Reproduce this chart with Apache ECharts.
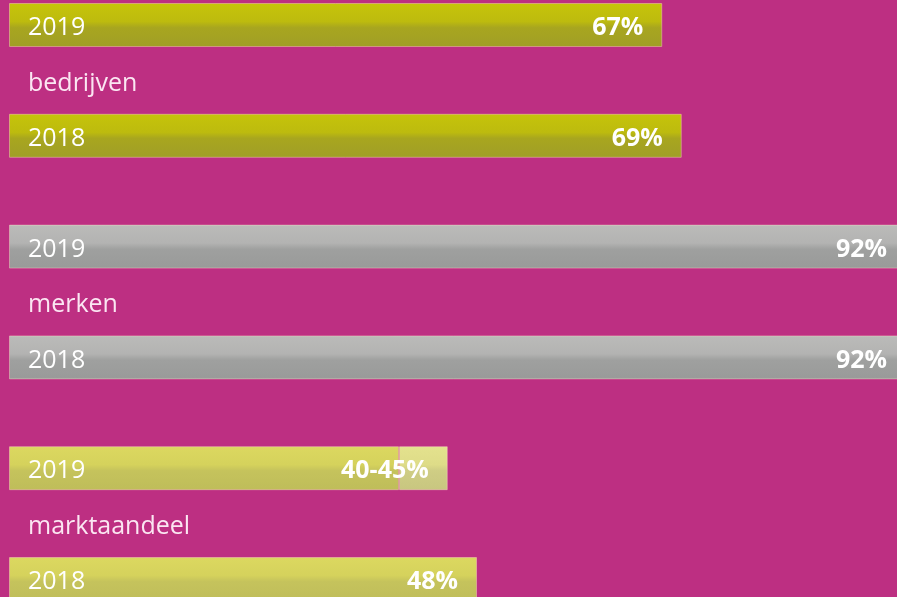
<!DOCTYPE html>
<html>
<head>
<meta charset="utf-8">
<script src="https://cdn.jsdelivr.net/npm/echarts@6/dist/echarts.min.js"></script>
<style>
html,body{margin:0;padding:0;background:#bd2f82;}
#chart{width:897px;height:597px;}
</style>
</head>
<body>
<div id="chart"></div>
<script>
// ---- data ----
const groups = ['bedrijven', 'merken', 'marktaandeel'];
const years = ['2019', '2018'];
const values2019 = [67, 92, 40];
const values2018 = [69, 92, 48];
const rangeTop2019 = [null, null, 45];   // upper end of a range (40-45%)

// ---- styling ----
const palettes = [
  { top: '#c6c40a', mid1: '#bdbb0e', mid2: '#a8a61f', bot: '#a09e27' },
  { top: '#bbbbb9', mid1: '#b3b3b2', mid2: '#9fa09f', bot: '#999a99' },
  { top: '#dcd860', mid1: '#d5d25c', mid2: '#c5c35c', bot: '#bfbd5a' }
];
const rangePalette = { top: '#e4e28e', mid1: '#dedc88', mid2: '#cfcd84', bot: '#c8c680' };
function grad(p) {
  return new echarts.graphic.LinearGradient(0, 0, 0, 1, [
    { offset: 0, color: p.top },
    { offset: 0.42, color: p.mid1 },
    { offset: 0.56, color: p.mid2 },
    { offset: 1, color: p.bot }
  ]);
}

// ---- build slots ----
const cats = [];
const kinds = [];
const mainData = [];
const rangeData = [];
groups.forEach((g, i) => {
  const rows = [
    { label: years[0], kind: 'bar', v: values2019[i], r: rangeTop2019[i] },
    { label: g, kind: 'group', v: null, r: null },
    { label: years[1], kind: 'bar', v: values2018[i], r: null }
  ];
  rows.forEach(row => {
    cats.push(row.label);
    kinds.push(row.kind);
    if (row.kind === 'bar') {
      mainData.push({
        value: row.v,
        itemStyle: { color: grad(palettes[i]) },
        label: { show: row.r == null }
      });
      rangeData.push(row.r != null ? {
        value: row.r - row.v,
        rangeText: row.v + '-' + row.r + '%',
        itemStyle: { color: grad(rangePalette) },
        label: { show: true }
      } : null);
    } else {
      mainData.push(null);
      rangeData.push(null);
    }
  });
  if (i < groups.length - 1) {
    cats.push('');
    kinds.push('gap');
    mainData.push(null);
    rangeData.push(null);
  }
});

const FONT = '"Open Sans", "Noto Sans", sans-serif';
const chart = echarts.init(document.getElementById('chart'));
chart.setOption({
  backgroundColor: '#bd2f82',
  animation: false,
  grid: {
    left: 9, top: -2.7, width: 975, height: 609.4,
    containLabel: false,
    outerBoundsMode: 'none'
  },
  xAxis: {
    type: 'value', min: 0, max: 100,
    show: false
  },
  yAxis: {
    type: 'category',
    data: cats,
    inverse: true,
    z: 10,
    axisLine: { show: false },
    axisTick: { show: false },
    splitLine: { show: false },
    axisLabel: {
      inside: true,
      margin: 19,
      formatter: function (val, idx) {
        return (kinds[idx] === 'group' ? '{g|' : '{y|') + val + '}';
      },
      rich: {
        y: { fontFamily: FONT, fontSize: 25, color: '#ffffff', padding: [6, 0, 0, 0] },
        g: { fontFamily: FONT, fontSize: 25, color: '#fbe6f2', padding: [6, 0, 0, 0] }
      }
    }
  },
  series: [
    {
      type: 'bar',
      stack: 'a',
      data: mainData,
      barWidth: 44,
      itemStyle: { borderColor: 'rgba(255,225,200,0.4)', borderWidth: 1 },
      label: {
        show: true,
        position: 'insideRight',
        distance: 19,
        offset: [0, 3],
        formatter: p => p.value + '%',
        color: '#ffffff',
        fontFamily: FONT,
        fontWeight: 'bold',
        fontSize: 25
      }
    },
    {
      type: 'bar',
      stack: 'a',
      data: rangeData,
      barWidth: 44,
      itemStyle: { borderColor: 'rgba(255,225,200,0.4)', borderWidth: 1 },
      label: {
        show: true,
        position: 'insideRight',
        distance: 19,
        offset: [0, 3],
        formatter: p => p.data.rangeText,
        color: '#ffffff',
        fontFamily: FONT,
        fontWeight: 'bold',
        fontSize: 25
      }
    }
  ]
});
</script>
</body>
</html>
